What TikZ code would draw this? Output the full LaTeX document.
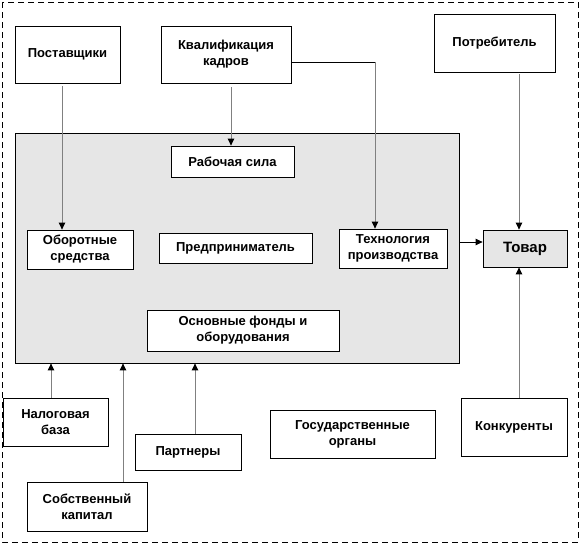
\documentclass[tikz,border=0pt]{standalone}
\usepackage{fontspec}
\setmainfont{Liberation Sans}
\usetikzlibrary{arrows.meta,shadows}
\definecolor{boxgray}{HTML}{E6E6E6}
\definecolor{linegray}{HTML}{808080}
\begin{document}
\begin{tikzpicture}[x=1pt,y=-1pt,
  box/.style={draw=black,line width=0.8pt,fill=white,align=center,inner sep=0pt,
    font=\bfseries\fontsize{13}{16}\selectfont,
    drop shadow={shadow xshift=1.3pt,shadow yshift=-1.3pt,fill=linegray,opacity=1}},
  garrow/.style={draw=linegray,line width=1pt,-{Triangle[length=7pt,width=6.5pt,color=black]}},
  barrow/.style={draw=black,line width=0.8pt,-{Triangle[length=7pt,width=6.5pt,color=black]}},
  frame/.style={draw=black,dashed,dash pattern=on 6pt off 4pt,line width=0.8pt}]
\useasboundingbox (0,0) rectangle (581,544);
\draw[frame] (2,2) rectangle (578,542);
% big enterprise box
\node[box,fill=boxgray,minimum width=444pt,minimum height=230pt] (big) at (237,248) {};
% top boxes
\node[box,minimum width=105pt,minimum height=57pt] (post) at (67.5,54.5) {Поставщики};
\node[box,minimum width=130pt,minimum height=57pt] (kval) at (226,54.5) {Квалификация\\кадров};
\node[box,minimum width=121pt,minimum height=58pt] (potr) at (494.5,43) {Потребитель};
% inner boxes
\node[box,minimum width=123pt,minimum height=31pt] (rab) at (232.5,161.5) {Рабочая сила};
\node[box,minimum width=106pt,minimum height=39pt] (obor) at (80,249.5) {Оборотные\\средства};
\node[box,minimum width=153pt,minimum height=30pt] (pred) at (235.5,248) {Предприниматель};
\node[box,minimum width=108pt,minimum height=39pt] (tech) at (393,248.5) {Технология\\производства};
\node[box,minimum width=192pt,minimum height=41pt] (osn) at (243,330.5) {Основные фонды и\\оборудования};
% product
\node[box,fill=boxgray,minimum width=84pt,minimum height=37pt,font=\bfseries\fontsize{15}{17}\selectfont] (tovar) at (525,248.5) {Товар};
% bottom boxes
\node[box,minimum width=105pt,minimum height=48pt] (nalog) at (55.5,422) {Налоговая\\база};
\node[box,minimum width=120pt,minimum height=49pt] (sobst) at (87,506.5) {Собственный\\капитал};
\node[box,minimum width=106pt,minimum height=36pt] (partn) at (188,452) {Партнеры};
\node[box,minimum width=165pt,minimum height=48pt] (gos) at (352.5,434) {Государственные\\органы};
\node[box,minimum width=106pt,minimum height=58pt] (konk) at (514,427) {Конкуренты};
% connectors
\draw[garrow] ([xshift=-5.5pt,yshift=-3pt]post.south) -- ([xshift=-5.5pt]post.south |- obor.north);
\draw[garrow] ([xshift=5pt,yshift=-4pt]kval.south) -- ([xshift=5pt]kval.south |- rab.north);
\coordinate (kstart) at ([yshift=-7.5pt]kval.east);
\coordinate (ktech) at ([xshift=-18pt]tech.north);
\coordinate (kcorner) at (kstart -| ktech);
\draw[draw=black,line width=0.8pt] (kstart) -- (kcorner);
\draw[garrow] (kcorner) -- (ktech);
\coordinate (pstart) at ([xshift=24.5pt,yshift=-2pt]potr.south);
\draw[garrow] (pstart) -- (pstart |- tovar.north);
\coordinate (bstart) at ([yshift=6pt]big.east);
\draw[barrow] (bstart) -- (bstart -| tovar.west);
\coordinate (kkstart) at ([xshift=5pt]konk.north);
\draw[garrow] (kkstart) -- (kkstart |- tovar.south);
\coordinate (nstart) at ([xshift=-4.5pt]nalog.north);
\draw[garrow] (nstart) -- (nstart |- big.south);
\coordinate (sstart) at ([xshift=36pt]sobst.north);
\draw[garrow] (sstart) -- (sstart |- big.south);
\coordinate (ptstart) at ([xshift=7pt]partn.north);
\draw[garrow] (ptstart) -- (ptstart |- big.south);
\end{tikzpicture}
\end{document}
